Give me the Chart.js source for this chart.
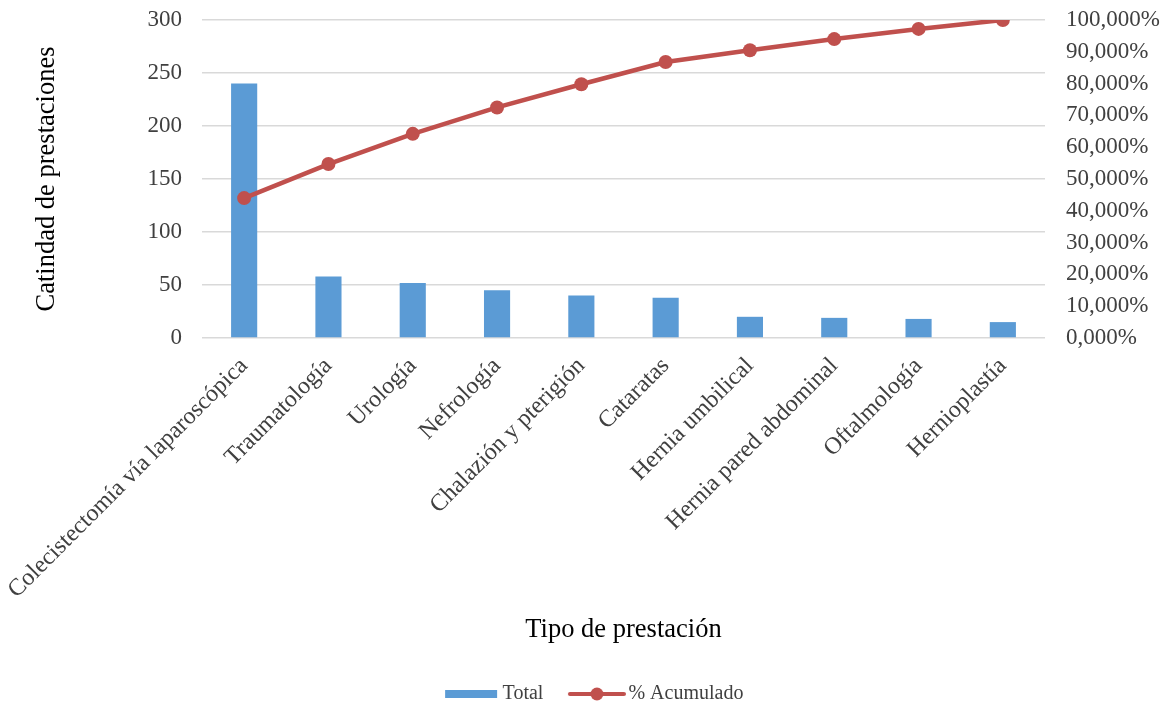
<!DOCTYPE html>
<html>
<head>
<meta charset="utf-8">
<script src="https://cdn.jsdelivr.net/npm/chart.js@4.4.1/dist/chart.umd.min.js"></script>
<style>
  html, body { margin: 0; padding: 0; background: #fff; }
  #wrap { width: 1167px; height: 707px; }
</style>
</head>
<body>
<div id="wrap"><canvas id="pareto"></canvas></div>
<script>
const categories = [
  "Colecistectomía vía laparoscópica",
  "Traumatología",
  "Urología",
  "Nefrología",
  "Chalazión y pterigión",
  "Cataratas",
  "Hernia umbilical",
  "Hernia pared abdominal",
  "Oftalmología",
  "Hernioplastía"
];
const totals = [240, 58, 52, 45, 40, 38, 20, 19, 18, 15];
const cumulative = [44.0, 54.7, 64.2, 72.5, 79.8, 86.8, 90.5, 94.0, 97.2, 100.0];

const blue = "#5B9BD5";
const red = "#C0504D";
const textColor = "#404040";
const fontFamily = "'Liberation Serif', 'Times New Roman', serif";

// legend symbols sit on the right part of the canvas so they end just before the text
function makeSymbol(kind) {
  const c = document.createElement("canvas");
  c.width = 80;
  c.height = 16;
  const ctx = c.getContext("2d");
  if (kind === "bar") {
    ctx.fillStyle = blue;
    ctx.fillRect(25, 4, 52, 8);
  } else {
    ctx.strokeStyle = red;
    ctx.lineWidth = 4;
    ctx.lineCap = "round";
    ctx.beginPath();
    ctx.moveTo(24, 8);
    ctx.lineTo(78, 8);
    ctx.stroke();
    ctx.fillStyle = red;
    ctx.beginPath();
    ctx.arc(51, 8, 6.5, 0, Math.PI * 2);
    ctx.fill();
  }
  return c;
}

const symbols = [makeSymbol("bar"), makeSymbol("line")];

function fixAxis(width) {
  return (scale) => {
    scale.width = width;
    scale.paddingTop = 20;
    scale.paddingBottom = 14;
  };
}

new Chart(document.getElementById("pareto"), {
  data: {
    labels: categories,
    datasets: [
      {
        type: "bar",
        label: "Total",
        data: totals,
        backgroundColor: blue,
        borderWidth: 0,
        barPercentage: 0.5,
        categoryPercentage: 0.62,
        yAxisID: "y",
        order: 2
      },
      {
        type: "line",
        label: "% Acumulado",
        data: cumulative,
        borderColor: red,
        backgroundColor: red,
        borderWidth: 4.5,
        pointRadius: 7,
        pointHoverRadius: 7,
        pointBorderWidth: 0,
        tension: 0,
        yAxisID: "y1",
        order: 1
      }
    ]
  },
  options: {
    responsive: true,
    maintainAspectRatio: false,
    animation: false,
    layout: { padding: { top: 0, right: -2, left: 2, bottom: -7 } },
    plugins: {
      tooltip: { enabled: false },
      legend: {
        position: "bottom",
        labels: {
          usePointStyle: true,
          pointStyleWidth: 65,
          padding: 10,
          color: textColor,
          font: { family: fontFamily, size: 20 },
          generateLabels(chart) {
            return chart.data.datasets.map((ds, i) => ({
              text: ds.label,
              pointStyle: symbols[i],
              fillStyle: "transparent",
              strokeStyle: "transparent",
              lineWidth: 0,
              fontColor: textColor,
              hidden: false,
              datasetIndex: i
            }));
          }
        }
      }
    },
    scales: {
      x: {
        afterFit: (scale) => {
          scale.paddingLeft = 0;
          scale.paddingRight = 0;
        },
        grid: { display: false },
        border: { display: false },
        ticks: {
          color: textColor,
          font: { family: fontFamily, size: 24 },
          maxRotation: 45,
          minRotation: 45,
          padding: 6
        },
        title: {
          display: true,
          text: "Tipo de prestación",
          color: "#000",
          font: { family: fontFamily, size: 26.5 },
          padding: { top: 3.5, bottom: 28.5 }
        }
      },
      y: {
        position: "left",
        min: 0,
        max: 300,
        afterFit: fixAxis(200),
        ticks: {
          stepSize: 50,
          color: textColor,
          font: { family: fontFamily, size: 23 },
          padding: 20
        },
        grid: { color: "#D9D9D9", lineWidth: 1.5, drawTicks: false },
        border: { display: false },
        title: {
          display: true,
          text: "Catindad de prestaciones",
          color: "#000",
          font: { family: fontFamily, size: 26.5 },
          padding: { top: 29.5, bottom: 0 }
        }
      },
      y1: {
        position: "right",
        min: 0,
        max: 100,
        afterFit: fixAxis(124),
        ticks: {
          stepSize: 10,
          autoSkip: false,
          color: textColor,
          font: { family: fontFamily, size: 23 },
          padding: 21,
          callback: (v) => v.toFixed(3).replace(".", ",") + "%"
        },
        grid: { display: false, drawTicks: false },
        border: { display: false }
      }
    }
  }
});
</script>
</body>
</html>
